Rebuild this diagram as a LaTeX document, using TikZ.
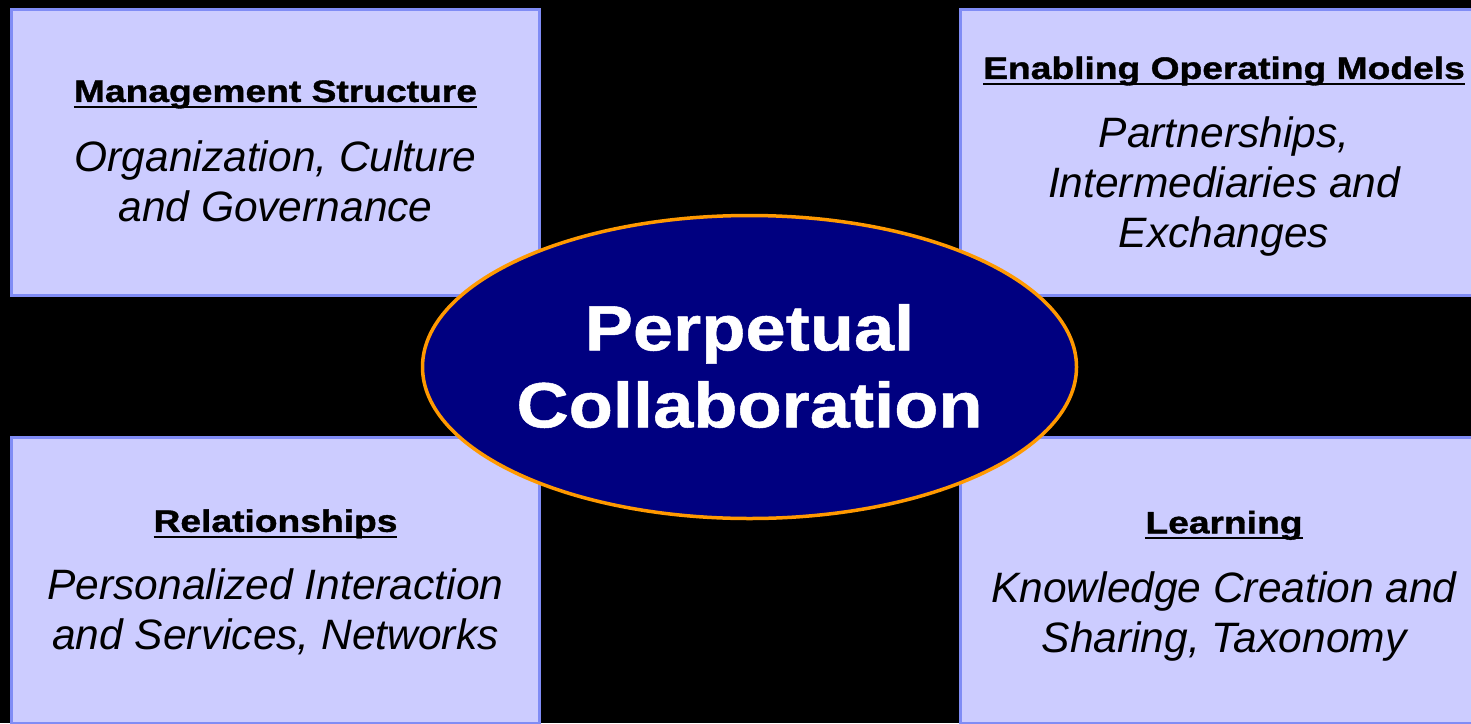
\documentclass[tikz,border=0pt]{standalone}
\usepackage{fontspec}
\usetikzlibrary{shapes.geometric}
\setmainfont{Liberation Sans}
\newfontfamily\headfont[FakeStretch=1.2,FakeBold=1.2]{Liberation Sans}
\newfontfamily\corefont[FakeStretch=1.13,FakeBold=0.8]{Liberation Sans}

\definecolor{boxfill}{RGB}{204,204,255}
\definecolor{boxline}{RGB}{128,140,245}
\definecolor{corefill}{RGB}{0,0,128}
\definecolor{coreline}{RGB}{255,153,0}

% bold heading, underlined through the descenders
\newcommand\heading[1]{{\headfont\bfseries\upshape\fontsize{31}{36}\selectfont
\setbox0=\hbox{#1}\rlap{\rule[-6pt]{\wd0}{2pt}}\box0}}

\begin{document}
\begin{tikzpicture}[
x=1pt, y=-1pt,
box/.style={
draw=boxline,
fill=boxfill,
line width=3pt,
minimum width=528pt,
minimum height=286pt,
inner sep=0pt
},
body/.style={
align=center,
inner sep=0pt,
font=\itshape\fontsize{42.5}{50}\selectfont
},
oval/.style={
ellipse,
draw=coreline,
fill=corefill,
line width=3.5pt,
minimum width=654pt,
minimum height=303pt,
inner sep=0pt
},
core/.style={
align=center,
inner sep=0pt,
text=white,
font=\corefont\bfseries\fontsize{64}{77}\selectfont
}
]

\useasboundingbox (0,0) rectangle (1471,723);
\clip (0,0) rectangle (1471,723);
\fill[black] (0,0) rectangle (1471,723);

\node[box] (MS) at (275.5,152.5) {};
\node[box] (EO) at (1224.5,152.5) {};
\node[box] (R) at (275.5,580.5) {};
\node[box] (L) at (1224.5,580.5) {};

\node[body] (MS-text) at (275.5,151.3)
{\heading{Management Structure}\\[20pt]Organization, Culture\\and Governance};

\node[body] (EO-text) at (1224,156.6)
{\heading{Enabling Operating Models}\\[19pt]Partnerships,\\Intermediaries and\\Exchanges};

\node[body] (R-text) at (275.5,582.3)
{\heading{Relationships}\\[18pt]Personalized Interaction\\and Services, Networks};

\node[body] (L-text) at (1224,586)
{\heading{Learning}\\[19pt]Knowledge Creation and\\Sharing, Taxonomy};

\node[oval] (PC) at (749.5,367) {};
\node[core] (PC-text) at (749.5,366) {Perpetual\\Collaboration};

\end{tikzpicture}
\end{document}
